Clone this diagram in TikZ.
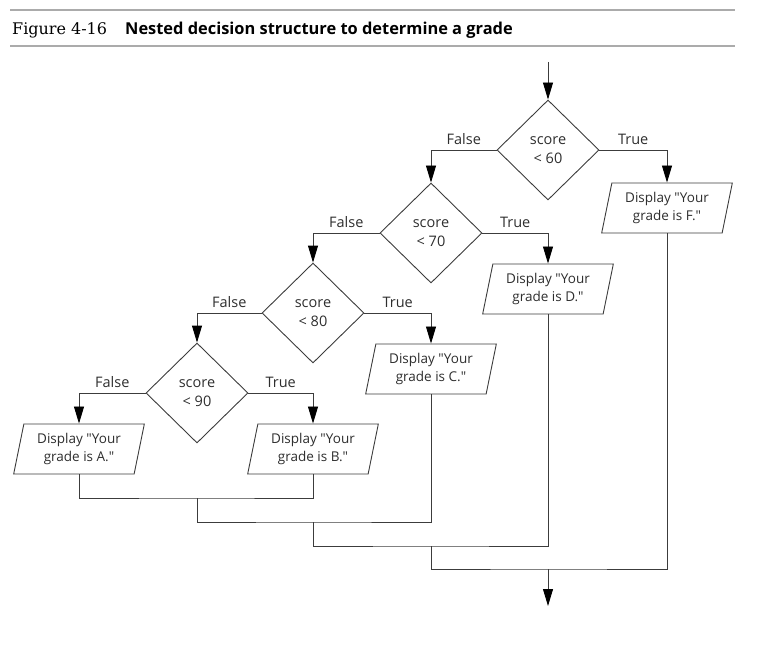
\documentclass[tikz,border=0pt]{standalone}
\usepackage{fontspec}
\setmainfont{Open Sans}[Ligatures=TeXOff]
\newfontfamily\figfont{DejaVu Serif}
\usetikzlibrary{shapes.geometric, arrows.meta}
\definecolor{linegray}{HTML}{3C3C3C}
\definecolor{rulegray}{HTML}{ABABAB}
\definecolor{textgray}{HTML}{2E2E2E}

\begin{document}
\begin{tikzpicture}[x=1pt, y=-1pt,
		decision/.style={diamond, draw=linegray, line width=0.9pt, minimum width=102pt, minimum height=100pt, inner sep=0pt, align=center, text=textgray, font=\fontsize{14.5}{19}\selectfont},
		output/.style={trapezium, trapezium left angle=76, trapezium right angle=104, trapezium stretches=true, draw=linegray, line width=0.9pt, minimum width=132pt, minimum height=50pt, inner sep=0pt, align=center, text=textgray, font=\fontsize{13.5}{17.5}\selectfont},
		flow/.style={draw=linegray, line width=0.9pt, -{Triangle[length=17pt, width=10pt, color=black]}},
		merge/.style={draw=linegray, line width=0.9pt},
		branch/.style={above, inner sep=5pt, text=textgray, font=\fontsize{14.5}{16}\selectfont}]
				\useasboundingbox (0, 0) rectangle (758, 650);
				
				% heading
				\coordinate (ruleA) at (10, 10);
				\coordinate (ruleB) at (735, 10);
				\coordinate (ruleC) at (10, 46);
				\coordinate (ruleD) at (735, 46);
				\draw [rulegray, line width=1.6pt](ruleA) -- (ruleB);
				\draw [rulegray, line width=1.6pt](ruleC) -- (ruleD);
				\node [anchor=base west, inner sep=0pt](fig) at (12, 35) {\figfont\fontsize{16}{18}\selectfont Figure 4-16};
				\node [anchor=base west, inner sep=0pt](caption) at (125, 35) {\fontsize{16.4}{18}\selectfont\bfseries Nested decision structure to determine a grade};
				
				\coordinate (start) at (548, 62);
				\coordinate (m1) at (197, 498);
				\coordinate (m2) at (313, 522);
				\coordinate (m3) at (431, 546);
				\coordinate (m4) at (548, 569);
				\coordinate (stop) at (548, 606);
				
				\node [decision](d60) at (548, 150) {score\\\textless{} 60};
				\node [decision](d70) at (431, 233) {score\\\textless{} 70};
				\node [decision](d80) at (313, 313) {score\\\textless{} 80};
				\node [decision](d90) at (197, 393) {score\\\textless{} 90};
				
				\node [output](gF) at (667, 208) {Display "Your\\grade is F."};
				\node [output](gD) at (548, 289) {Display "Your\\grade is D."};
				\node [output](gC) at (431, 369) {Display "Your\\grade is C."};
				\node [output](gB) at (313, 449) {Display "Your\\grade is B."};
				\node [output](gA) at (79, 449) {Display "Your\\grade is A."};
				
				\draw [flow](start) -- (d60);
				\draw [flow](d60.west) -| node[branch, pos=0.25]{False} (d70.north);
				\draw [flow](d60.east) -| node[branch, pos=0.25]{True} (gF.north);
				\draw [flow](d70.west) -| node[branch, pos=0.25]{False} (d80.north);
				\draw [flow](d70.east) -| node[branch, pos=0.25]{True} (gD.north);
				\draw [flow](d80.west) -| node[branch, pos=0.25]{False} (d90.north);
				\draw [flow](d80.east) -| node[branch, pos=0.25]{True} (gC.north);
				\draw [flow](d90.west) -| node[branch, pos=0.25]{False} (gA.north);
				\draw [flow](d90.east) -| node[branch, pos=0.25]{True} (gB.north);
				
				\draw [merge](gA.south) |- (m1) -| (gB.south);
				\draw [merge](m1) |- (m2) -| (gC.south);
				\draw [merge](m2) |- (m3) -| (gD.south);
				\draw [merge](m3) |- (m4) -| (gF.south);
				\draw [flow](m4) -- (stop);
			\end{tikzpicture}
\end{document}
